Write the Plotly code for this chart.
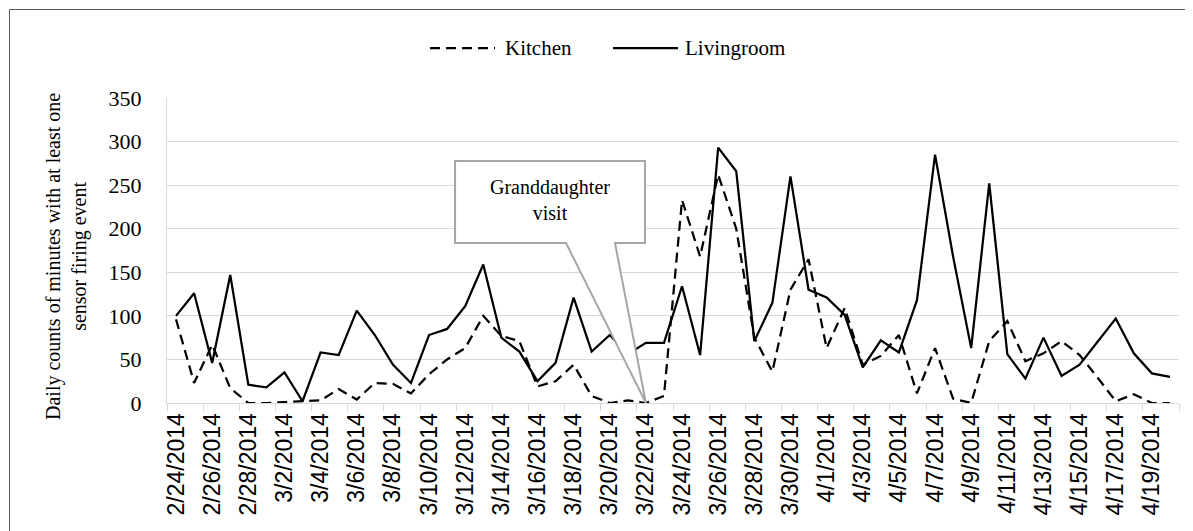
import plotly.graph_objects as go

dates = ["2/24/2014", "2/25/2014", "2/26/2014", "2/27/2014", "2/28/2014",
         "3/1/2014", "3/2/2014", "3/3/2014", "3/4/2014", "3/5/2014", "3/6/2014",
         "3/7/2014", "3/8/2014", "3/9/2014", "3/10/2014", "3/11/2014", "3/12/2014",
         "3/13/2014", "3/14/2014", "3/15/2014", "3/16/2014", "3/17/2014", "3/18/2014",
         "3/19/2014", "3/20/2014", "3/21/2014", "3/22/2014", "3/23/2014", "3/24/2014",
         "3/25/2014", "3/26/2014", "3/27/2014", "3/28/2014", "3/29/2014", "3/30/2014",
         "3/31/2014", "4/1/2014", "4/2/2014", "4/3/2014", "4/4/2014", "4/5/2014",
         "4/6/2014", "4/7/2014", "4/8/2014", "4/9/2014", "4/10/2014", "4/11/2014",
         "4/12/2014", "4/13/2014", "4/14/2014", "4/15/2014", "4/16/2014", "4/17/2014",
         "4/18/2014", "4/19/2014", "4/20/2014"]

kitchen = [96, 23, 67, 17, 0, 0, 1, 2, 3, 16, 4,
           23, 22, 11, 33, 50, 63, 100, 77, 71, 19,
           25, 44, 8, 0, 3, 0, 8, 233, 168, 262,
           200, 75, 36, 130, 165, 63, 109, 44, 54, 78,
           11, 63, 5, 0, 71, 94, 48, 57, 71, 55,
           29, 2, 10, 0, 0]

livingroom = [100, 126, 46, 147, 21, 18, 35, 2, 58, 55, 106,
              78, 44, 23, 78, 85, 111, 159, 75, 59, 25,
              46, 121, 59, 78, 56, 69, 69, 134, 55, 293,
              266, 71, 115, 260, 130, 121, 101, 41, 72, 58,
              118, 285, 168, 63, 252, 56, 28, 75, 31, 44,
              71, 97, 57, 34, 30]

y_ticks = [0, 50, 100, 150, 200, 250, 300, 350]

callout_text = "Granddaughter<br>visit"
callout_date = "3/22/2014"

W, H = 1193, 531
L, R, T, B = 159, 1171, 90, 395


def px(x):
    return (x - L) / (R - L)


def py(y):
    return (B - y) / (B - T)


serif = "Liberation Serif"
GRID = "#d9d9d9"

fig = go.Figure()
fig.add_trace(go.Scatter(x=dates, y=kitchen, mode="lines", name="Kitchen",
                         line=dict(color="black", width=2.25, dash="10px,6px")))
fig.add_trace(go.Scatter(x=dates, y=livingroom, mode="lines", name="Livingroom",
                         line=dict(color="black", width=2.25)))

# callout (data coordinates: category index / value)
ti = dates.index(callout_date)
bx0, bx1 = ti - 10.56, ti - 0.05
by0, by1 = 183.6, 277.7
p0, p1 = ti - 4.42, ti - 1.71
path = (f"M {bx0},{by1} L {bx1},{by1} L {bx1},{by0} L {p1},{by0} "
        f"L {ti},0 L {p0},{by0} L {bx0},{by0} Z")
fig.add_shape(type="path", path=path, xref="x", yref="y", layer="above",
              fillcolor="white", line=dict(color="#a6a6a6", width=2))
fig.add_annotation(x=(bx0 + bx1) / 2, y=(by0 + by1) / 2 + 2, xref="x", yref="y",
                   text=callout_text, showarrow=False,
                   font=dict(family=serif, size=20, color="black"))

# custom legend
ly = py(40)
fig.add_shape(type="line", xref="paper", yref="paper", x0=px(422), x1=px(487),
              y0=ly, y1=ly, line=dict(color="black", width=2.25, dash="10px,6px"))
fig.add_annotation(x=px(495), y=ly, xref="paper", yref="paper", text="Kitchen",
                   showarrow=False, xanchor="left", yanchor="middle",
                   font=dict(family=serif, size=21, color="black"))
fig.add_shape(type="line", xref="paper", yref="paper", x0=px(605), x1=px(670),
              y0=ly, y1=ly, line=dict(color="black", width=2.25))
fig.add_annotation(x=px(675), y=ly, xref="paper", yref="paper", text="Livingroom",
                   showarrow=False, xanchor="left", yanchor="middle",
                   font=dict(family=serif, size=21, color="black"))

# y-axis title
fig.add_annotation(x=px(58), y=py(249), xref="paper", yref="paper",
                   text="Daily counts of minutes with at least one<br>sensor firing event",
                   textangle=-90, showarrow=False, xanchor="center", yanchor="middle",
                   font=dict(family=serif, size=20, color="black"))

# chart border
fig.add_shape(type="rect", xref="paper", yref="paper", x0=px(1.5), x1=px(W - 2.5),
              y0=py(H - 2.5), y1=py(1.5), line=dict(color="#595959", width=1),
              fillcolor="rgba(0,0,0,0)", layer="below")

fig.update_layout(
    width=W, height=H, autosize=False,
    margin=dict(l=L, r=W - R, t=T, b=H - B),
    paper_bgcolor="white", plot_bgcolor="white",
    showlegend=False,
    xaxis=dict(type="category", range=[-0.5, len(dates) - 0.5],
               tickmode="linear", tick0=0, dtick=2, tickson="boundaries",
               ticks="outside", ticklen=7, tickcolor=GRID, tickwidth=1,
               showline=True, linecolor=GRID, linewidth=1, showgrid=False,
               tickangle=-90,
               tickfont=dict(family="Liberation Sans", size=23, color="black")),
    yaxis=dict(range=[0, 350], tickvals=y_ticks, showgrid=True, gridcolor=GRID,
               gridwidth=1, zeroline=False, showline=True, linecolor=GRID,
               ticks="", ticklabelstandoff=20,
               tickfont=dict(family=serif, size=22, color="black")),
)

fig.write_html("out.html")
